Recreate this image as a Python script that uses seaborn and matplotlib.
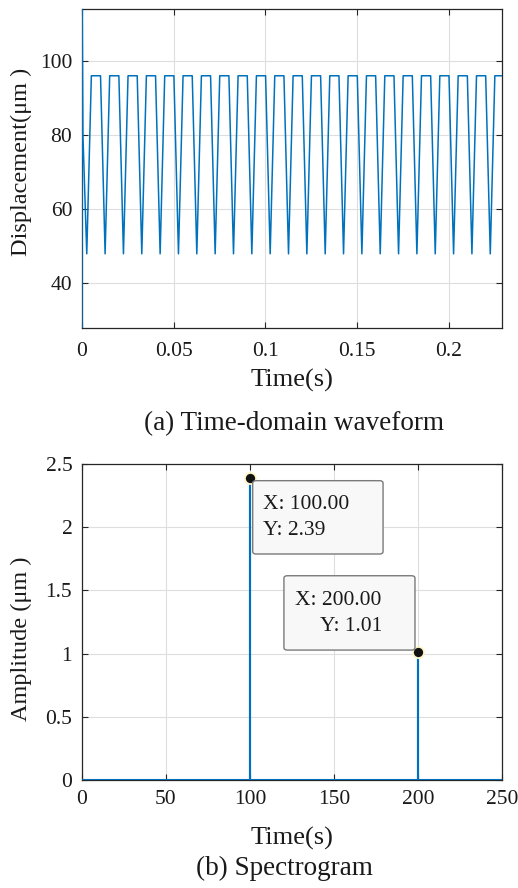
import numpy as np
import pandas as pd
import matplotlib
matplotlib.use("Agg")
import matplotlib.pyplot as plt
import seaborn as sns
from matplotlib.patches import FancyBboxPatch

# ---------------- data ----------------
# (a) time-domain waveform: start transient, then periodic dips
init_t = [0.0, 0.0, 0.0005]
init_y = [20.0, 125.0, 80.0]
dip_times = [0.0026, 0.0126, 0.0226, 0.0326, 0.0426, 0.0526, 0.0626, 0.0726,
             0.0826, 0.0926, 0.1026, 0.1126, 0.1226, 0.1326, 0.1426, 0.1526,
             0.1626, 0.1726, 0.1826, 0.1926, 0.2026, 0.2126, 0.2226]
dip_min = 48.0
flat_top = 96.0
rise_dur = 0.0025   # dip -> top
fall_start = 0.0075  # end of flat after dip

# (b) spectrum
spec_freq = [0.0, 100.0, 100.0, 100.0, 200.0, 200.0, 200.0, 250.0]
spec_amp = [0.0, 0.0, 2.39, 0.0, 0.0, 1.01, 0.0, 0.0]
peak_freq = [100.0, 200.0]
peak_amp = [2.39, 1.01]

x_ticks_a = [0, 0.05, 0.1, 0.15, 0.2]
x_ticklabels_a = ["0", "0.05", "0.1", "0.15", "0.2"]
y_ticks_a = [40, 60, 80, 100]
x_ticks_b = [0, 50, 100, 150, 200, 250]
y_ticks_b = [0, 0.5, 1, 1.5, 2, 2.5]
y_ticklabels_b = ["0", "0.5", "1", "1.5", "2", "2.5"]

# build waveform table
wt = list(init_t)
wy = list(init_y)
for d in dip_times:
    wt += [d, d + rise_dur, d + fall_start]
    wy += [dip_min, flat_top, flat_top]
wave = pd.DataFrame({"t": wt, "y": wy})
spec = pd.DataFrame({"f": spec_freq, "a": spec_amp})

# ---------------- style ----------------
sns.set_style("ticks")
plt.rcParams["font.family"] = ["Liberation Serif", "DejaVu Serif"]

BLUE = "#0072BD"
SPINE = "#262626"
GRID = "#dedede"
TXT = "#1a1a1a"

fig = plt.figure(figsize=(5.18, 8.88), dpi=100)
ax1 = fig.add_axes([82 / 518, 1 - 328 / 888, 420 / 518, 319 / 888])
ax2 = fig.add_axes([82 / 518, 1 - 780 / 888, 420 / 518, 316 / 888])

# ---- (a) ----
sns.lineplot(data=wave, x="t", y="y", sort=False, estimator=None,
             color=BLUE, linewidth=1.1, ax=ax1, zorder=3)
ax1.set_xlim(0, 0.229)
ax1.set_ylim(28, 114)
ax1.set_xticks(x_ticks_a)
ax1.set_xticklabels(x_ticklabels_a)
ax1.set_yticks(y_ticks_a)
ax1.set_xlabel("Time(s)", fontsize=19)
ax1.set_ylabel("Displacement(μm )", fontsize=17.5)
ax1.yaxis.set_label_coords(-0.12, 0.52)
ax1.xaxis.set_label_coords(0.5, -0.128)

# ---- (b) ----
sns.lineplot(data=spec, x="f", y="a", sort=False, estimator=None,
             color=BLUE, linewidth=1.5, ax=ax2, zorder=3)
ax2.plot(peak_freq, peak_amp, linestyle="none", marker="o", markersize=8,
         markerfacecolor="#111111", markeredgecolor="#fff6c8",
         markeredgewidth=1.3, zorder=5, clip_on=False)
ax2.set_xlim(0, 250)
ax2.set_ylim(0, 2.5)
ax2.set_xticks(x_ticks_b)
ax2.set_yticks(y_ticks_b)
ax2.set_yticklabels(y_ticklabels_b)
ax2.set_xlabel("Time(s)", fontsize=19)
ax2.set_ylabel("Amplitude (μm )", fontsize=17.5)
ax2.yaxis.set_label_coords(-0.12, 0.446)
ax2.xaxis.set_label_coords(0.5, -0.148)

# data tips
boxes = [
    (101.6, 1.788, 77.6, 0.580),
    (120.2, 1.028, 78.0, 0.588),
]
for (bx, by, bw, bh) in boxes:
    p = FancyBboxPatch((bx, by), bw, bh,
                       boxstyle="round,pad=0,rounding_size=2",
                       mutation_aspect=0.01,
                       facecolor="#f8f8f8", edgecolor="#7a7a7a",
                       linewidth=1.0, zorder=6)
    ax2.add_patch(p)
ax2.text(107.7, 2.176, f"X: {peak_freq[0]:.2f}", fontsize=15.5, va="center",
         ha="left", zorder=7, color=TXT)
ax2.text(107.7, 1.97, f"Y: {peak_amp[0]:.2f}", fontsize=15.5, va="center",
         ha="left", zorder=7, color=TXT)
ax2.text(126.8, 1.418, f"X: {peak_freq[1]:.2f}", fontsize=15.5, va="center",
         ha="left", zorder=7, color=TXT)
ax2.text(141.7, 1.213, f"Y: {peak_amp[1]:.2f}", fontsize=15.5, va="center",
         ha="left", zorder=7, color=TXT)

for ax in (ax1, ax2):
    ax.grid(True, color=GRID, linewidth=0.8)
    ax.set_axisbelow(True)
    for s in ax.spines.values():
        s.set_visible(True)
        s.set_color(SPINE)
        s.set_linewidth(0.9)
    ax.tick_params(direction="in", length=4, width=0.8, colors=SPINE,
                   labelsize=15.5, top=True, right=True, pad=7,
                   labelcolor=TXT)
    ax.xaxis.label.set_color(TXT)
    ax.yaxis.label.set_color(TXT)
ax1.tick_params(axis="x", pad=10)

fig.text(0.567, 1 - 424 / 888, "(a) Time-domain waveform", fontsize=19.5,
         ha="center", va="center", color=TXT)
fig.text(0.549, 1 - 868 / 888, "(b) Spectrogram", fontsize=19.5,
         ha="center", va="center", color=TXT)

fig.savefig("out.png", dpi=100)
